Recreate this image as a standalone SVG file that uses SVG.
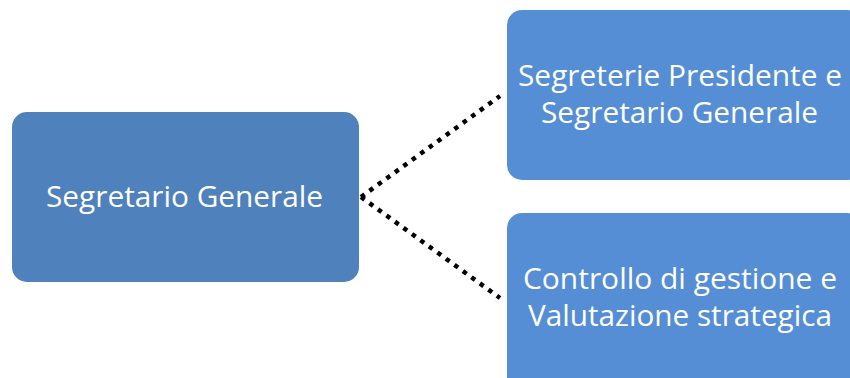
<svg xmlns="http://www.w3.org/2000/svg" width="850" height="378" viewBox="0 0 850 378">
<style>
.t{font-family:"Open Sans","Liberation Sans",sans-serif;font-size:30px;fill:#ffffff;}
.c{fill:none;stroke:#000000;stroke-width:4.5;stroke-dasharray:4.5 6;}
</style>
<rect width="850" height="378" fill="#ffffff"/>
<g id="connectors">
<line class="c" x1="361" y1="197" x2="500" y2="96"/>
<line class="c" x1="361" y1="197" x2="500" y2="298"/>
</g>
<g id="node-sg">
<rect x="12" y="112" width="347" height="170" rx="15" fill="#4F81BD"/>
<text class="t" x="46" y="207" textLength="277" lengthAdjust="spacingAndGlyphs">Segretario Generale</text>
</g>
<g id="node-segreterie">
<rect x="507" y="10" width="355" height="170" rx="15" fill="#558ED5"/>
<text class="t" x="518" y="86" textLength="324" lengthAdjust="spacingAndGlyphs">Segreterie Presidente e</text>
<text class="t" x="541" y="123" textLength="277" lengthAdjust="spacingAndGlyphs">Segretario Generale</text>
</g>
<g id="node-controllo">
<rect x="507" y="213" width="355" height="200" rx="15" fill="#558ED5"/>
<text class="t" x="523" y="289" textLength="314" lengthAdjust="spacingAndGlyphs">Controllo di gestione e</text>
<text class="t" x="528" y="326" textLength="304" lengthAdjust="spacingAndGlyphs">Valutazione strategica</text>
</g>
</svg>
